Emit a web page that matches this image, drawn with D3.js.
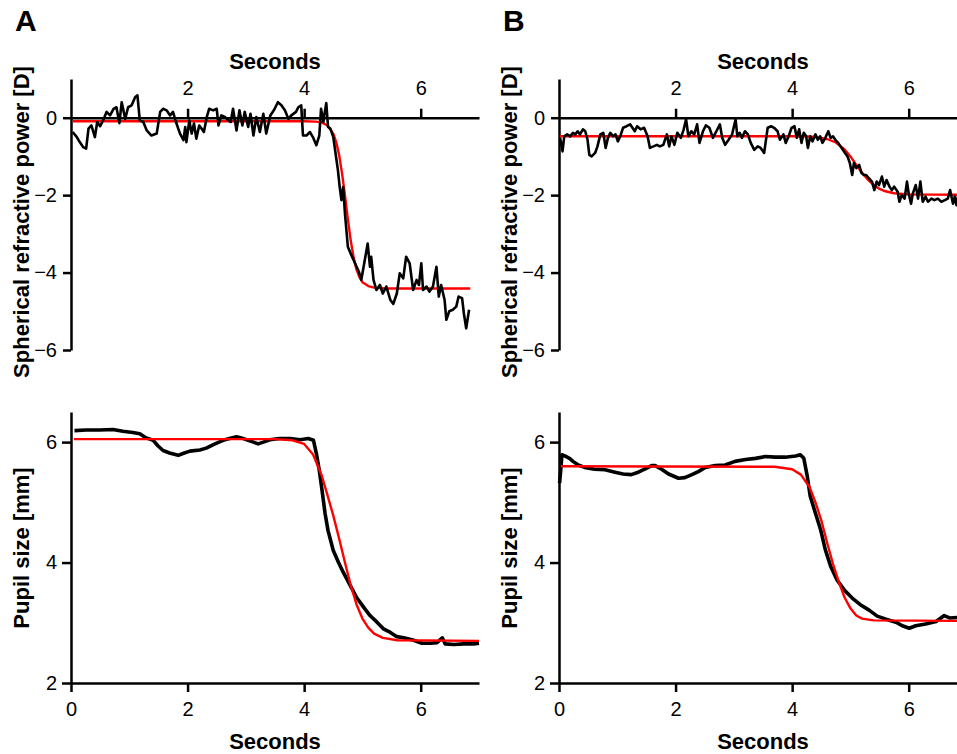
<!DOCTYPE html>
<html>
<head>
<meta charset="utf-8">
<script src="https://cdn.jsdelivr.net/npm/d3@7"></script>
<style>
body { margin: 0; background: #fff; }
text { font-family: Arial, "Liberation Sans", Helvetica, sans-serif; }
</style>
</head>
<body>
<div id="chart"></div>
<script>
// values: [seconds, value]
let specA = [[0.03,-0.37],[0.1,-0.5],[0.15,-0.63],[0.21,-0.76],[0.26,-0.8],[0.3,-0.28],[0.35,-0.2],[0.41,-0.5],[0.45,-0.11],[0.5,-0.22],[0.55,-0.07],[0.61,0.15],[0.67,0.06],[0.73,0.23],[0.78,0.27],[0.83,-0.14],[0.87,0.4],[0.93,-0.03],[0.98,0.27],[1.04,0.32],[1.1,0.53],[1.14,0.58],[1.18,-0.07],[1.24,-0.11],[1.3,-0.33],[1.38,-0.46],[1.47,-0.41],[1.53,0.15],[1.58,0.23],[1.64,0.19],[1.7,0.06],[1.75,0.15],[1.81,-0.15],[1.87,-0.41],[1.93,-0.58],[1.96,-0.24],[1.98,-0.63],[2.03,-0.07],[2.07,-0.41],[2.11,-0.15],[2.15,-0.54],[2.2,-0.2],[2.24,-0.28],[2.28,-0.37],[2.33,0.02],[2.37,0.23],[2.44,0.19],[2.5,0.23],[2.53,-0.2],[2.58,0.06],[2.64,0.02],[2.7,-0.07],[2.74,-0.11],[2.78,0.23],[2.84,-0.33],[2.89,0.19],[2.94,-0.2],[2.98,0.15],[3.04,-0.24],[3.08,0.1],[3.13,-0.46],[3.18,0.02],[3.24,-0.37],[3.3,0.1],[3.35,-0.41],[3.42,0.06],[3.48,0.19],[3.55,0.4],[3.61,0.32],[3.67,0.19],[3.73,-0.03],[3.78,0.06],[3.86,0.15],[3.9,0.27],[3.95,0.32],[3.98,-0.46],[4.04,-0.46],[4.1,-0.37],[4.15,-0.5],[4.21,-0.71],[4.26,-0.46],[4.29,0.23],[4.33,-0.11],[4.35,0.1],[4.38,0.38],[4.41,-0.24],[4.45,-0.28],[4.5,-0.5],[4.54,-0.93],[4.58,-1.36],[4.61,-1.79],[4.64,-2.13],[4.67,-1.79],[4.7,-2.47],[4.73,-2.99],[4.75,-3.33],[4.81,-3.55],[4.85,-3.68],[4.9,-3.85],[4.94,-3.98],[4.98,-4.19],[5.04,-3.68],[5.09,-3.25],[5.13,-3.85],[5.15,-3.59],[5.19,-4.19],[5.24,-4.45],[5.3,-4.32],[5.35,-4.54],[5.41,-4.36],[5.48,-4.71],[5.53,-4.81],[5.59,-4.54],[5.64,-4.02],[5.7,-4.15],[5.75,-3.59],[5.81,-3.76],[5.87,-4.45],[5.93,-4.19],[5.97,-4.32],[6.01,-3.76],[6.04,-4.45],[6.1,-4.36],[6.15,-4.49],[6.21,-4.36],[6.27,-3.85],[6.31,-4.62],[6.35,-4.32],[6.41,-4.71],[6.44,-5.22],[6.49,-5.0],[6.55,-4.96],[6.61,-4.88],[6.65,-4.62],[6.71,-4.66],[6.74,-5.05],[6.78,-5.44],[6.83,-4.96]];
let specFitA = [[0.03,-0.09],[4.0,-0.09],[4.2,-0.1],[4.3,-0.12],[4.4,-0.2],[4.5,-0.41],[4.55,-0.63],[4.6,-0.96],[4.65,-1.43],[4.7,-2.0],[4.75,-2.62],[4.8,-3.18],[4.85,-3.62],[4.9,-3.93],[4.95,-4.12],[5.0,-4.25],[5.1,-4.35],[5.2,-4.39],[5.4,-4.41],[6.85,-4.41]];

let specB = [[0.02,-0.52],[0.06,-0.87],[0.09,-0.48],[0.14,-0.43],[0.19,-0.48],[0.24,-0.39],[0.28,-0.43],[0.32,-0.35],[0.36,-0.43],[0.41,-0.3],[0.45,-0.35],[0.49,-0.57],[0.52,-0.96],[0.56,-1.0],[0.62,-0.91],[0.66,-0.74],[0.71,-0.43],[0.76,-0.39],[0.8,-0.78],[0.84,-0.52],[0.88,-0.39],[0.93,-0.48],[0.97,-0.43],[1.01,-0.61],[1.05,-0.48],[1.1,-0.26],[1.16,-0.22],[1.22,-0.17],[1.26,-0.26],[1.3,-0.35],[1.34,-0.22],[1.4,-0.3],[1.46,-0.26],[1.52,-0.48],[1.56,-0.78],[1.62,-0.74],[1.68,-0.7],[1.73,-0.74],[1.79,-0.7],[1.85,-0.43],[1.89,-0.74],[1.93,-0.48],[1.98,-0.7],[2.03,-0.39],[2.09,-0.52],[2.14,-0.3],[2.18,-0.04],[2.22,-0.48],[2.27,-0.35],[2.32,-0.43],[2.37,-0.17],[2.41,-0.65],[2.47,-0.35],[2.52,-0.2],[2.58,-0.26],[2.64,-0.52],[2.7,-0.35],[2.76,-0.17],[2.8,-0.52],[2.85,-0.7],[2.91,-0.57],[2.97,-0.43],[3.03,-0.04],[3.06,-0.48],[3.1,-0.39],[3.14,-0.52],[3.19,-0.35],[3.24,-0.43],[3.29,-0.65],[3.35,-0.83],[3.41,-0.74],[3.46,-0.78],[3.52,-0.91],[3.58,-0.26],[3.64,-0.22],[3.69,-0.26],[3.75,-0.35],[3.79,-0.57],[3.85,-0.43],[3.89,-0.65],[3.94,-0.48],[3.99,-0.26],[4.04,-0.22],[4.08,-0.52],[4.12,-0.3],[4.16,-0.65],[4.2,-0.39],[4.24,-0.48],[4.27,-0.78],[4.31,-0.48],[4.35,-0.61],[4.4,-0.43],[4.44,-0.57],[4.48,-0.48],[4.52,-0.65],[4.57,-0.52],[4.62,-0.35],[4.66,-0.52],[4.7,-0.48],[4.74,-0.57],[4.79,-0.65],[4.83,-0.74],[4.89,-0.87],[4.95,-1.0],[4.99,-1.17],[5.03,-1.48],[5.06,-1.17],[5.1,-1.3],[5.15,-1.22],[5.19,-1.43],[5.23,-1.48],[5.27,-1.48],[5.32,-1.57],[5.37,-1.65],[5.41,-1.87],[5.45,-1.65],[5.49,-1.74],[5.54,-1.52],[5.58,-1.78],[5.62,-1.61],[5.67,-1.78],[5.71,-1.87],[5.75,-1.78],[5.81,-1.91],[5.84,-2.17],[5.88,-2.0],[5.93,-2.09],[5.97,-1.65],[6.0,-1.96],[6.04,-2.22],[6.07,-1.96],[6.12,-1.74],[6.16,-2.09],[6.2,-1.65],[6.24,-2.17],[6.29,-2.04],[6.33,-2.17],[6.39,-2.09],[6.44,-2.13],[6.5,-2.09],[6.56,-2.17],[6.62,-2.13],[6.67,-2.09],[6.71,-1.87],[6.76,-2.22],[6.79,-2.04],[6.82,-2.26],[6.85,-2.0]];
let specFitB = [[0.02,-0.48],[4.2,-0.48],[4.4,-0.5],[4.6,-0.55],[4.75,-0.64],[4.9,-0.82],[5.0,-1.0],[5.1,-1.22],[5.2,-1.42],[5.3,-1.6],[5.4,-1.74],[5.5,-1.84],[5.6,-1.9],[5.75,-1.95],[6.0,-1.98],[7.0,-1.99]];

let pupilA = [[0.06,6.19],[0.26,6.2],[0.49,6.2],[0.72,6.21],[0.89,6.18],[1.06,6.16],[1.18,6.14],[1.29,6.07],[1.41,6.03],[1.49,5.94],[1.58,5.86],[1.69,5.82],[1.84,5.78],[1.92,5.81],[2.04,5.85],[2.21,5.87],[2.32,5.9],[2.47,5.97],[2.61,6.03],[2.72,6.06],[2.84,6.09],[2.92,6.07],[3.04,6.03],[3.13,6.0],[3.21,5.97],[3.3,6.0],[3.41,6.04],[3.58,6.06],[3.76,6.06],[3.93,6.04],[4.07,6.06],[4.16,6.03],[4.21,5.81],[4.26,5.53],[4.3,5.25],[4.36,4.81],[4.41,4.53],[4.5,4.2],[4.59,4.0],[4.67,3.84],[4.79,3.62],[4.9,3.42],[5.02,3.26],[5.13,3.12],[5.25,3.01],[5.36,2.9],[5.48,2.84],[5.59,2.77],[5.71,2.75],[5.88,2.71],[6.02,2.66],[6.17,2.66],[6.28,2.67],[6.37,2.75],[6.42,2.65],[6.57,2.64],[6.74,2.65],[6.91,2.65],[7.0,2.66]];
let pupilFitA = [[0.05,6.05],[3.5,6.05],[3.8,6.03],[4.0,5.97],[4.15,5.8],[4.3,5.45],[4.4,5.12],[4.5,4.78],[4.6,4.4],[4.7,4.0],[4.8,3.62],[4.9,3.3],[5.0,3.07],[5.1,2.92],[5.2,2.82],[5.35,2.75],[5.6,2.71],[7.0,2.7]];

let pupilB = [[0.01,5.32],[0.03,5.54],[0.05,5.79],[0.1,5.77],[0.18,5.73],[0.24,5.68],[0.33,5.62],[0.44,5.58],[0.61,5.55],[0.79,5.54],[0.96,5.5],[1.1,5.47],[1.24,5.46],[1.36,5.5],[1.47,5.55],[1.59,5.61],[1.65,5.61],[1.76,5.55],[1.88,5.47],[2.05,5.4],[2.16,5.41],[2.28,5.46],[2.39,5.51],[2.51,5.58],[2.68,5.61],[2.85,5.62],[3.02,5.68],[3.2,5.71],[3.37,5.73],[3.54,5.76],[3.71,5.75],[3.88,5.75],[4.06,5.77],[4.14,5.79],[4.2,5.73],[4.26,5.43],[4.31,5.1],[4.4,4.82],[4.49,4.54],[4.57,4.21],[4.66,3.94],[4.77,3.71],[4.89,3.55],[5.03,3.41],[5.17,3.3],[5.32,3.21],[5.46,3.11],[5.61,3.06],[5.78,3.01],[5.89,2.95],[6.01,2.91],[6.12,2.95],[6.29,2.98],[6.47,3.02],[6.61,3.12],[6.7,3.08],[6.87,3.09],[7.0,3.09]];
let pupilFitB = [[0.03,5.6],[3.7,5.59],[4.0,5.55],[4.15,5.46],[4.3,5.25],[4.4,5.0],[4.5,4.7],[4.6,4.33],[4.7,3.98],[4.8,3.68],[4.9,3.42],[5.0,3.24],[5.1,3.12],[5.2,3.07],[5.4,3.04],[7.0,3.03]];

let topXTicks = [2, 4, 6];
let topYTicks = [-6, -4, -2, 0];
let botXTicks = [0, 2, 4, 6];
let botYTicks = [2, 4, 6];

let W = 957, H = 754;

let svg = d3.select("#chart")
  .append("svg")
  .attr("width", W)
  .attr("height", H);

let yTop = d3.scaleLinear().domain([-6, 1]).range([350, 79]);
let yBot = d3.scaleLinear().domain([2, 6.5]).range([683, 412]);
// real minus sign, as in the figure
let fmt = d => d < 0 ? "\u2212" + Math.abs(d) : String(d);

function styleAxis(g) {
  g.attr("font-size", null).attr("font-family", null);
  g.selectAll("path.domain").attr("stroke", "#000").attr("stroke-width", 2.5);
  g.selectAll(".tick line").attr("stroke", "#000").attr("stroke-width", 2.5);
  g.selectAll(".tick text").attr("fill", "#000").style("font-size", "20px");
}

function drawLine(data, x, y, color, width) {
  svg.append("path")
    .datum(data)
    .attr("fill", "none")
    .attr("stroke", color)
    .attr("stroke-width", width)
    .attr("stroke-linejoin", "round")
    .attr("d", d3.line().x(d => x(d[0])).y(d => y(d[1])));
}

function panel(left, letter, spec, specFit, pupil, pupilFit) {
  let x = d3.scaleLinear().domain([0, 7]).range([left, left + 408]);

  // --- refraction panel ---
  svg.append("g")
    .attr("transform", "translate(0," + yTop(0) + ")")
    .call(d3.axisTop(x).tickValues(topXTicks).tickFormat(fmt).tickSize(9).tickPadding(14).tickSizeOuter(0))
    .call(styleAxis);
  svg.append("g")
    .attr("transform", "translate(" + left + ",0)")
    .call(d3.axisLeft(yTop).tickValues(topYTicks).tickFormat(fmt).tickSize(8).tickPadding(6).tickSizeOuter(0))
    .call(styleAxis);

  drawLine(specFit, x, yTop, "#ff0000", 2.4);
  drawLine(spec, x, yTop, "#000", 2.6);

  svg.append("text")
    .attr("x", x(3.5))
    .attr("y", 69)
    .attr("text-anchor", "middle")
    .style("font-size", "22px")
    .style("font-weight", "bold")
    .text("Seconds");

  svg.append("text")
    .attr("transform", "translate(" + (left - 42) + "," + 222 + ") rotate(-90)")
    .attr("text-anchor", "middle")
    .style("font-size", "22px")
    .style("font-weight", "bold")
    .text("Spherical refractive power [D]");

  // --- pupil panel ---
  svg.append("g")
    .attr("transform", "translate(0," + yBot(2) + ")")
    .call(d3.axisBottom(x).tickValues(botXTicks).tickFormat(fmt).tickSize(9).tickPadding(10).tickSizeOuter(0))
    .call(styleAxis);
  svg.append("g")
    .attr("transform", "translate(" + left + ",0)")
    .call(d3.axisLeft(yBot).tickValues(botYTicks).tickFormat(fmt).tickSize(9).tickPadding(5).tickSizeOuter(0))
    .call(styleAxis);

  drawLine(pupil, x, yBot, "#000", 3.6);
  drawLine(pupilFit, x, yBot, "#ff0000", 2.4);

  svg.append("text")
    .attr("x", x(3.5))
    .attr("y", 749)
    .attr("text-anchor", "middle")
    .style("font-size", "22px")
    .style("font-weight", "bold")
    .text("Seconds");

  svg.append("text")
    .attr("transform", "translate(" + (left - 42) + "," + 548 + ") rotate(-90)")
    .attr("text-anchor", "middle")
    .style("font-size", "22px")
    .style("font-weight", "bold")
    .text("Pupil size [mm]");

  // panel letter
  svg.append("text")
    .attr("x", left - 56)
    .attr("y", 31)
    .style("font-size", "30px")
    .style("font-weight", "bold")
    .text(letter);
}

panel(71, "A", specA, specFitA, pupilA, pupilFitA);
panel(559, "B", specB, specFitB, pupilB, pupilFitB);
</script>
</body>
</html>
